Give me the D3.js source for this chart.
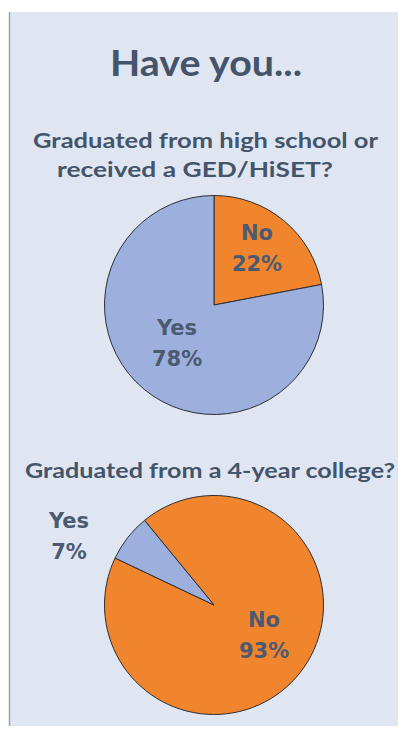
<!DOCTYPE html>
<html>
<head>
<meta charset="utf-8">
<script src="https://cdn.jsdelivr.net/npm/d3@7"></script>
<style>
  html, body { margin: 0; padding: 0; background: #ffffff; }
  svg { display: block; }
</style>
</head>
<body>
<svg id="chart" width="399" height="731"></svg>
<script>
// Survey answers, one small array per question
const hsCategories = ["No", "Yes"];
const hsValues = [22, 78];
const collegeCategories = ["No", "Yes"];
const collegeValues = [93, 7];

const titleText = "Have you...";
const hsQuestion = ["Graduated from high school or", "received a GED/HiSET?"];
const collegeQuestion = ["Graduated from a 4-year college?"];

const W = 399, H = 731;
const svg = d3.select("#chart");

const textColor = "#44546a";
const labelColor = "#4b5a71";
const sliceColor = d3.scaleOrdinal()
  .domain(["No", "Yes"])
  .range(["#f0852e", "#9db0dd"]);

// background panel
svg.append("rect")
  .attr("x", 9).attr("y", 12)
  .attr("width", 389).attr("height", 714)
  .attr("fill", "#dfe6f1");
svg.append("line")
  .attr("x1", 9.5).attr("x2", 9.5)
  .attr("y1", 12).attr("y2", 726)
  .attr("stroke", "#9ea3a9").attr("stroke-width", 1.5);

const headFont = "Lato, 'Open Sans', sans-serif";

// headings are set wide, so each line is stretched to its own width
function heading(t, x0, x1, baseline, size) {
  svg.append("text")
    .attr("x", x0).attr("y", baseline)
    .attr("textLength", x1 - x0)
    .attr("lengthAdjust", "spacingAndGlyphs")
    .attr("font-family", headFont)
    .attr("font-weight", 700)
    .attr("font-size", size)
    .attr("fill", textColor)
    .text(t);
}

heading(titleText, 110, 302, 76, 36);

const deg = Math.PI / 180;

function drawPie(cfg) {
  const data = cfg.categories.map((c, i) => ({ cat: c, value: cfg.values[i] }));
  const pie = d3.pie()
    .sort(null)
    .value(d => d.value)
    .startAngle(cfg.start)
    .endAngle(cfg.start + 2 * Math.PI);
  const arcs = pie(data);
  const arc = d3.arc().innerRadius(0).outerRadius(cfg.r);

  const g = svg.append("g").attr("transform", `translate(${cfg.cx},${cfg.cy})`);
  g.selectAll("path.slice")
    .data(arcs)
    .join("path")
    .attr("class", "slice")
    .attr("d", arc)
    .attr("fill", d => sliceColor(d.data.cat))
    .attr("stroke", "#2b2f36")
    .attr("stroke-width", 1)
    .attr("stroke-linejoin", "round");

  // each label block sits at a polar spot (angle clockwise from 12 o'clock, radius)
  const lbl = g.selectAll("g.lbl")
    .data(arcs)
    .join("g")
    .attr("class", "lbl")
    .attr("transform", d => {
      const [a, rr] = cfg.labelAt[d.data.cat];
      const [x, y] = d3.pointRadial(a * deg, rr);
      return `translate(${x},${y})`;
    });
  lbl.append("text")
    .attr("y", -4)
    .attr("text-anchor", "middle")
    .attr("font-family", "'DejaVu Sans', Verdana, sans-serif")
    .attr("font-weight", 700)
    .attr("font-size", 21)
    .attr("fill", labelColor)
    .text(d => d.data.cat);
  lbl.append("text")
    .attr("y", 27)
    .attr("text-anchor", "middle")
    .attr("font-family", "'DejaVu Sans', Verdana, sans-serif")
    .attr("font-weight", 700)
    .attr("font-size", 21)
    .attr("fill", labelColor)
    .text(d => d3.format(".0f")(d.data.value) + "%");
}

heading(hsQuestion[0], 33, 378, 148, 21);
heading(hsQuestion[1], 57, 333, 177, 21);
drawPie({
  categories: hsCategories, values: hsValues,
  cx: 214, cy: 305, r: 109.5,
  start: 0,
  labelAt: { No: [35.2, 74.6], Yes: [227.4, 50.2] }
});

heading(collegeQuestion[0], 25, 395, 478, 21);
drawPie({
  categories: collegeCategories, values: collegeValues,
  cx: 214, cy: 605, r: 109.5,
  start: -39.4 * deg,
  labelAt: { No: [117.5, 56.4], Yes: [296.7, 162.3] }
});
</script>
</body>
</html>
